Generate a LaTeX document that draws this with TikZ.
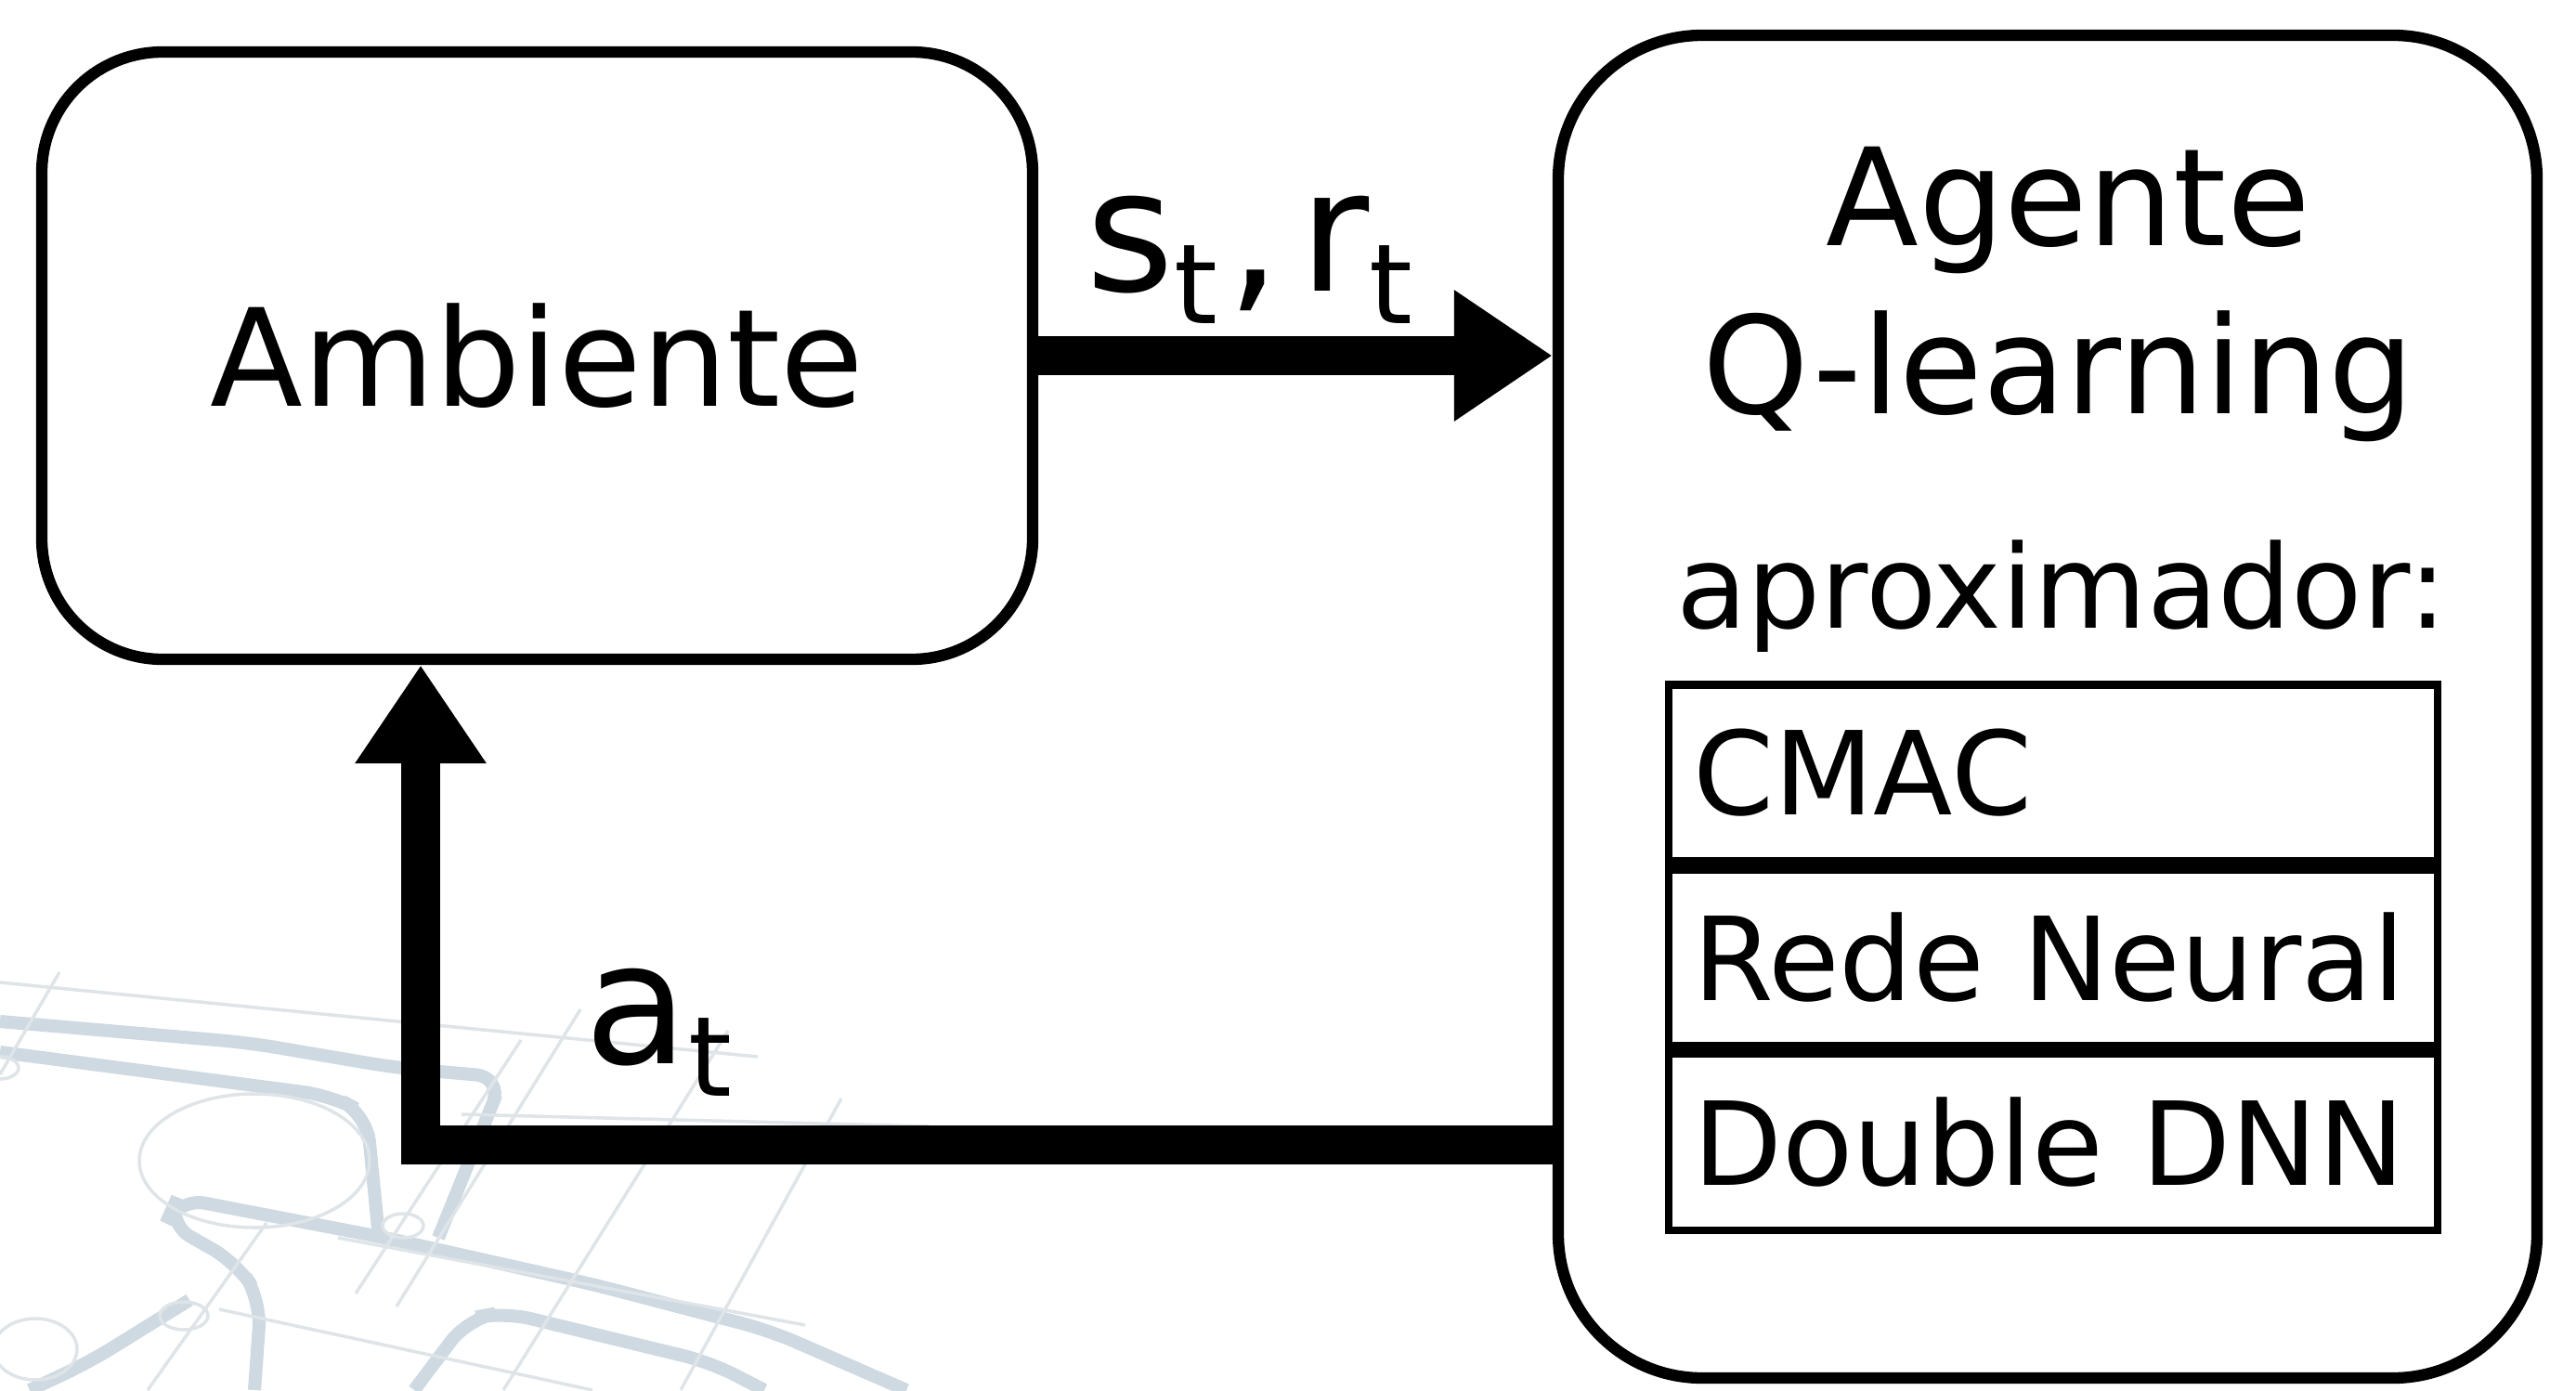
\documentclass[tikz,border=0pt]{standalone}
\usepackage{fontspec}
\setmainfont{DejaVu Sans}
\usetikzlibrary{arrows.meta,positioning}
\definecolor{wmark}{RGB}{206,217,225}
\definecolor{wlite}{RGB}{222,228,232}
\newcommand\lowsub[1]{\raisebox{-0.35cm}{\fontsize{34}{40}\selectfont #1}}
\begin{document}
\begin{tikzpicture}[
        bsty/.style={draw,rounded corners=1.3cm,line width=3.5pt,fill=white,font=\fontsize{41.5}{50}\selectfont},
        lsty/.style={draw,line width=2.5pt,minimum height=1.9cm,text width=7.76cm,inner xsep=0.26cm,align=left,font=\fontsize{35.5}{42}\selectfont},
        tsty/.style={font=\fontsize{41.5}{50}\selectfont},
        psty/.style={font=\fontsize{35.5}{42}\selectfont},
        asty/.style={line width=12pt,-{Triangle[length=1.06cm,width=1.34cm]}},
        lbsty/.style={font=\fontsize{52}{60}\selectfont},
        wthick/.style={draw=wmark,line width=4pt,rounded corners=0.3cm},
        wthin/.style={draw=wlite,line width=1pt},
        ]
    \useasboundingbox (0,0) rectangle (27.74,14.97);

    \draw[wthick] (0,3.97) -- (2.68,3.74) -- (4.27,3.47) -- (5.42,3.37) -- (5.23,2.90) -- (4.72,1.64);
    \draw[wthick] (0,3.64) -- (3.57,3.17) -- (3.95,2.97) -- (4.08,1.64);
    \draw[wthick] (2.74,0) -- (2.81,0.97) -- (2.55,1.37) -- (1.79,1.80) -- (1.91,2.07) -- (4.15,1.64) -- (6.38,1.14) -- (8.29,0.64) -- (9.76,0);
    \draw[wthick] (0.32,0) -- (0.96,0.30) -- (2.04,0.97);
    \draw[wthick] (4.46,0) -- (5.04,0.77) -- (5.42,0.84) -- (7.65,0.30) -- (8.23,0);
    \draw[wthin] (2.74,2.47) ellipse (1.24 and 0.72);
    \draw[wthin] (4.34,1.77) ellipse (0.22 and 0.13);
    \draw[wthin] (1.98,0.80) ellipse (0.26 and 0.15);
    \draw[wthin] (0.38,0.44) ellipse (0.45 and 0.33);
    \draw[wthin] (0,3.47) ellipse (0.2 and 0.12);
    \draw[wthin] (0,4.39) -- (8.16,3.59);
    \draw[wthin] (4.97,2.97) -- (10,2.84);
    \draw[wthin] (3.64,1.64) -- (8.67,0.70);
    \draw[wthin] (2.36,0.87) -- (6.38,0);
    \draw[wthin] (0.64,4.50) -- (0,3.40);
    \draw[wthin] (6.25,4.10) -- (4.27,0.90);
    \draw[wthin] (5.61,3.77) -- (3.83,1.04);
    \draw[wthin] (7.84,3.87) -- (5.42,0);
    \draw[wthin] (9.06,3.14) -- (7.33,0);
    \draw[wthin] (2.87,1.80) -- (1.59,0);

    \node (amb) [bsty,minimum width=10.67cm,minimum height=6.54cm] at (5.785,11.14) {Ambiente};
    \node (ag) [bsty,rounded corners=1.55cm,minimum width=10.54cm,minimum height=14.46cm] at (22.05,7.36) {};

    \node (agt) [tsty,anchor=base] at (22.27,12.32) {Agente};
    \node (qlrn) [tsty,anchor=base] at (22.17,10.51) {Q-learning};
    \node (apx) [psty,anchor=base] at (22.2,8.21) {aproximador:};

    \node (cmac) [lsty] at (22.11,6.645) {CMAC};
    \node (rede) [lsty,below=0pt of cmac] {Rede Neural};
    \node (ddnn) [lsty,below=0pt of rede] {Double DNN};

    \coordinate (bend) at (4.53,2.64);

    \draw[asty] (amb.east) -- node[lbsty,pos=0.41,anchor=base,yshift=0.69cm] (sobs) {s\lowsub{t}\hspace{0.1cm},\hspace{0.2cm}r\lowsub{t}} (amb.east -| ag.west);
    \draw[asty] (bend -| ag.west) -- node[lbsty,pos=0.79,anchor=base,yshift=0.88cm] (act) {a\lowsub{t}} (bend) -- (bend |- amb.south);

\end{tikzpicture}
\end{document}
